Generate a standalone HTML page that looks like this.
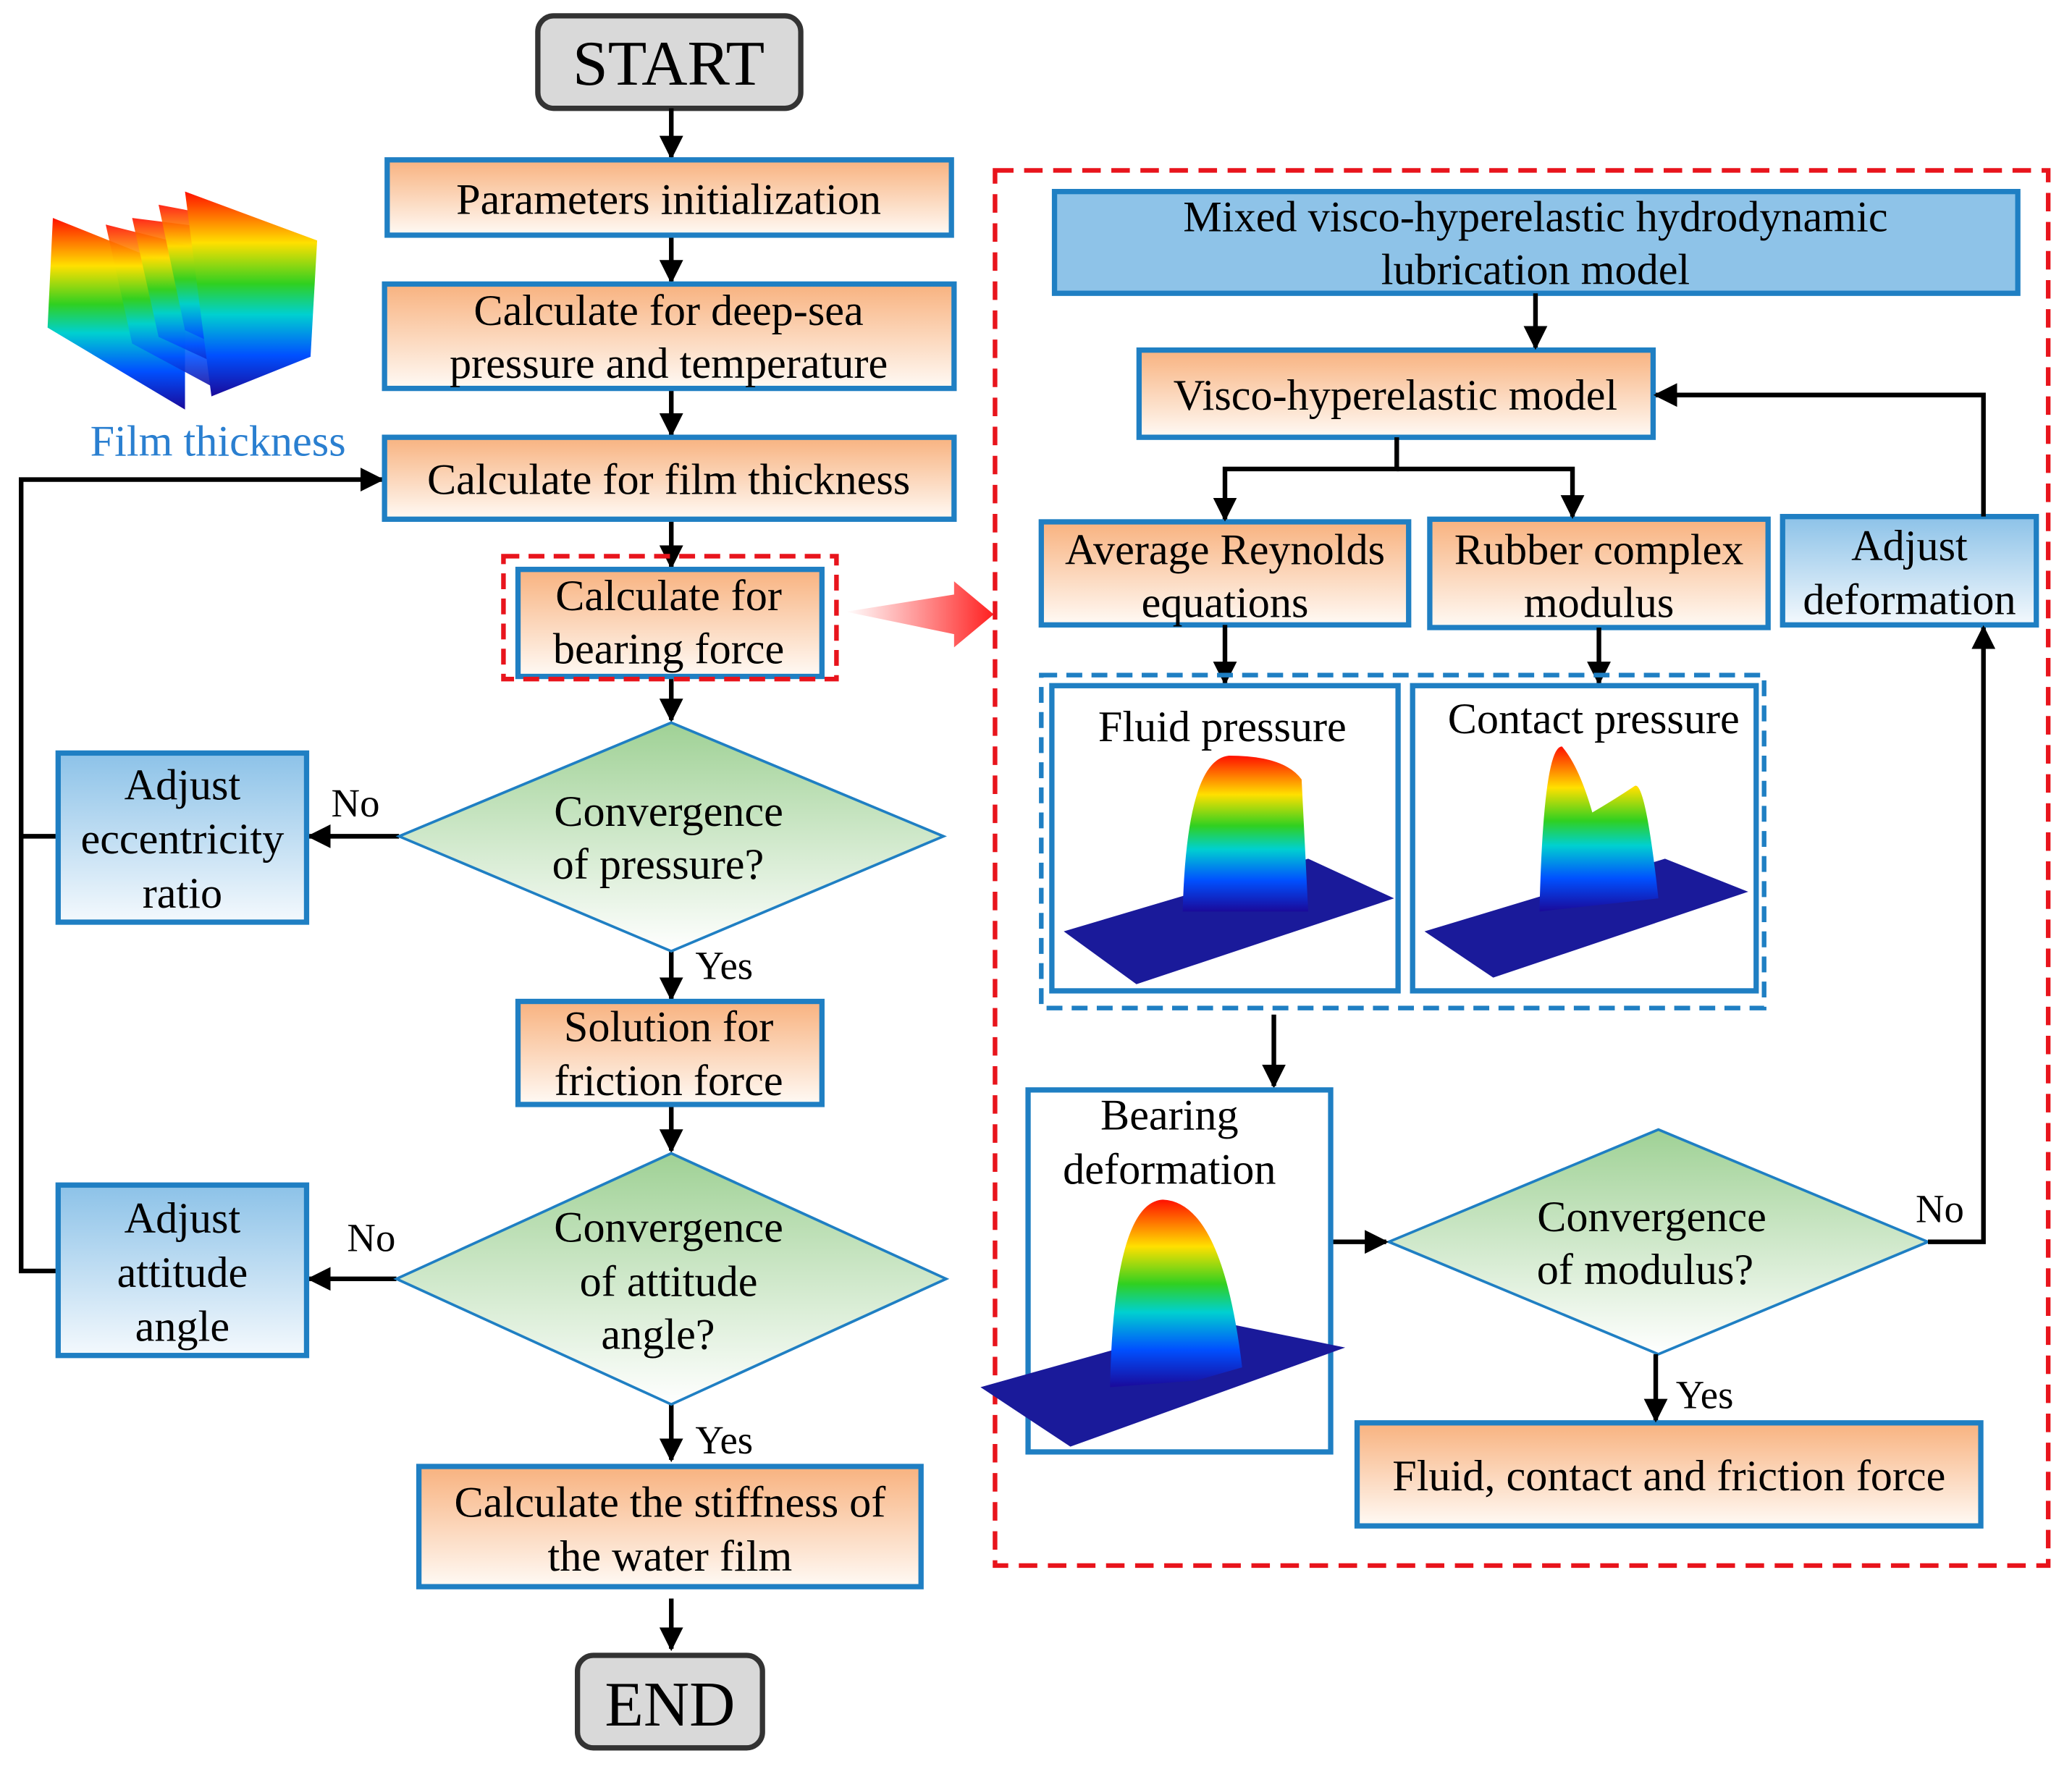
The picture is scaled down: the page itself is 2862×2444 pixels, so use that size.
<!DOCTYPE html>
<html><head><meta charset="utf-8"><style>
html,body{margin:0;padding:0;background:#fff}
svg{display:block}
text{font-family:"Liberation Serif",serif;fill:#000}
</style></head><body>
<svg width="2862" height="2444" viewBox="0 0 1568 1339" xmlns="http://www.w3.org/2000/svg">
<defs>
<linearGradient id="og" x1="0" y1="0" x2="0" y2="1"><stop offset="0" stop-color="#f8b27f"/><stop offset="1" stop-color="#fffaf5"/></linearGradient>
<linearGradient id="bg" x1="0" y1="0" x2="0" y2="1"><stop offset="0" stop-color="#8cc2e8"/><stop offset="1" stop-color="#f4f9fd"/></linearGradient>
<linearGradient id="gg" x1="0" y1="0" x2="0" y2="1"><stop offset="0" stop-color="#9fd195"/><stop offset="1" stop-color="#ffffff"/></linearGradient>
<linearGradient id="rb" x1="0" y1="1" x2="0" y2="0"><stop offset="0" stop-color="#1a0a9a"/><stop offset="0.2" stop-color="#0050ff"/><stop offset="0.4" stop-color="#00d0d0"/><stop offset="0.55" stop-color="#30d020"/><stop offset="0.75" stop-color="#ffe000"/><stop offset="1" stop-color="#ff1000"/></linearGradient>
<linearGradient id="ra" x1="0" y1="0" x2="1" y2="0"><stop offset="0" stop-color="#ff3030" stop-opacity="0"/><stop offset="1" stop-color="#ff2020"/></linearGradient>
<marker id="ar2" viewBox="0 0 10 10" markerWidth="18" markerHeight="18" refX="9" refY="5" orient="auto" markerUnits="userSpaceOnUse"><path d="M0,0 L10,5 L0,10 z" fill="#000"/></marker>
</defs>
<g font-size="33" text-anchor="middle">
<rect x="407" y="12" width="199" height="70" rx="12" fill="#d9d9d9" stroke="#333" stroke-width="4"/>
<text x="506" y="64" font-size="48">START</text>
<g stroke="#000" stroke-width="3.5" fill="none" marker-end="url(#ar2)">
<line x1="508" y1="82" x2="508" y2="119"/>
<line x1="508" y1="178" x2="508" y2="213"/>
<line x1="508" y1="294" x2="508" y2="329"/>
<line x1="508" y1="393" x2="508" y2="429"/>
<line x1="508" y1="514" x2="508" y2="545"/>
<line x1="508" y1="720" x2="508" y2="756"/>
<line x1="508" y1="836" x2="508" y2="871"/>
<line x1="508" y1="1063" x2="508" y2="1105"/>
<line x1="508" y1="1210" x2="508" y2="1248"/>
<line x1="302" y1="633" x2="234" y2="633"/>
<line x1="300" y1="968" x2="234" y2="968"/>
<polyline points="44,633 16,633 16,363 289,363"/>
</g>
<polyline points="44,962 16,962 16,633" stroke="#000" stroke-width="3.5" fill="none"/>
<g stroke="#1f7fc3" stroke-width="4" fill="url(#og)">
<rect x="293" y="121" width="427" height="57"/>
<rect x="291" y="215" width="431" height="79"/>
<rect x="291" y="331" width="431" height="62"/>
<rect x="392" y="431" width="230" height="81"/>
<rect x="392" y="758" width="230" height="78"/>
<rect x="317" y="1110" width="380" height="91"/>
</g>
<rect x="381" y="421" width="252" height="93" fill="none" stroke="#e8141c" stroke-width="3.5" stroke-dasharray="12,7"/>
<text x="506" y="162">Parameters initialization</text>
<text x="506" y="246">Calculate for deep-sea</text>
<text x="506" y="286">pressure and temperature</text>
<text x="506" y="374">Calculate for film thickness</text>
<text x="506" y="462">Calculate for</text>
<text x="506" y="502">bearing force</text>
<text x="506" y="788">Solution for</text>
<text x="506" y="829">friction force</text>
<text x="507" y="1148">Calculate the stiffness of</text>
<text x="507" y="1189">the water film</text>
<g stroke="#1f7fc3" stroke-width="2" fill="url(#gg)">
<polygon points="508,547 714,633 508,720 302,633"/>
<polygon points="508,873 716,968 508,1063 300,968"/>
<polygon points="1255,855 1459,940 1255,1025 1051,940"/>
</g>
<text x="506" y="625">Convergence</text>
<text x="498" y="665">of pressure?</text>
<text x="506" y="940">Convergence</text>
<text x="506" y="981">of attitude</text>
<text x="498" y="1021">angle?</text>
<text x="1250" y="932">Convergence</text>
<text x="1245" y="972">of modulus?</text>
<text x="269" y="618" font-size="30">No</text>
<text x="281" y="947" font-size="30">No</text>
<text x="548" y="741" font-size="30">Yes</text>
<text x="548" y="1100" font-size="30">Yes</text>
<g stroke="#1f7fc3" stroke-width="4" fill="url(#bg)">
<rect x="44" y="570" width="188" height="128"/>
<rect x="44" y="897" width="188" height="129"/>
<rect x="1349" y="391" width="192" height="82"/>
</g>
<text x="138" y="605">Adjust</text>
<text x="138" y="646">eccentricity</text>
<text x="138" y="687">ratio</text>
<text x="138" y="933">Adjust</text>
<text x="138" y="974">attitude</text>
<text x="138" y="1015">angle</text>
<text x="1445" y="424">Adjust</text>
<text x="1445" y="465">deformation</text>
<rect x="437" y="1253" width="140" height="70" rx="12" fill="#d9d9d9" stroke="#333" stroke-width="4"/>
<text x="507" y="1306" font-size="48">END</text>
<g>
<polygon points="40,165 140,205 140,310 36,248" fill="url(#rb)"/>
<polygon points="80,170 160,190 165,295 100,260" fill="url(#rb)" opacity="0.9"/>
<polygon points="100,165 180,175 185,285 120,255" fill="url(#rb)" opacity="0.9"/>
<polygon points="120,155 200,170 205,280 140,250" fill="url(#rb)" opacity="0.9"/>
<polygon points="140,145 240,182 235,270 160,300" fill="url(#rb)"/>
</g>
<text x="165" y="345" style="fill:#2a7fd0">Film thickness</text>
<polygon points="640,463 722,450 722,440 752,465 722,490 722,480" fill="url(#ra)"/>
<rect x="753" y="129" width="797" height="1056" fill="none" stroke="#e8141c" stroke-width="3.5" stroke-dasharray="14,8"/>
<rect x="798" y="145" width="729" height="77" fill="#8ec3e8" stroke="#1f7fc3" stroke-width="4"/>
<text x="1162" y="175">Mixed visco-hyperelastic hydrodynamic</text>
<text x="1162" y="215">lubrication model</text>
<g stroke="#1f7fc3" stroke-width="4" fill="url(#og)">
<rect x="862" y="265" width="389" height="66"/>
<rect x="788" y="395" width="278" height="78"/>
<rect x="1082" y="393" width="256" height="82"/>
<rect x="1027" y="1077" width="472" height="78"/>
</g>
<text x="1056" y="310">Visco-hyperelastic model</text>
<text x="927" y="427">Average Reynolds</text>
<text x="927" y="467">equations</text>
<text x="1210" y="427">Rubber complex</text>
<text x="1210" y="467">modulus</text>
<text x="1263" y="1128">Fluid, contact and friction force</text>
<g stroke="#000" stroke-width="3.5" fill="none" marker-end="url(#ar2)">
<line x1="1162" y1="222" x2="1162" y2="263"/>
<polyline points="1057,331 1057,355 927,355 927,393"/>
<polyline points="1057,355 1190,355 1190,391"/>
<line x1="927" y1="473" x2="927" y2="517"/>
<line x1="1210" y1="475" x2="1210" y2="517"/>
<line x1="964" y1="768" x2="964" y2="822"/>
<line x1="1007" y1="940" x2="1049" y2="940"/>
<polyline points="1459,940 1501,940 1501,475"/>
<polyline points="1501,391 1501,299 1253,299"/>
<line x1="1253" y1="1025" x2="1253" y2="1075"/>
</g>
<text x="1468" y="925" font-size="30">No</text>
<text x="1290" y="1066" font-size="30">Yes</text>
<rect x="788" y="511" width="547" height="252" fill="none" stroke="#1f7fc3" stroke-width="3.5" stroke-dasharray="12,7"/>
<g stroke="#1f7fc3" stroke-width="4" fill="#fff">
<rect x="796" y="519" width="262" height="231"/>
<rect x="1069" y="519" width="260" height="231"/>
<rect x="778" y="825" width="229" height="274"/>
</g>
<text x="925" y="561">Fluid pressure</text>
<text x="1206" y="555">Contact pressure</text>
<text x="885" y="855">Bearing</text>
<text x="885" y="896">deformation</text>
<polygon points="805,705 990,650 1055,680 860,745" fill="#1a1a9a"/>
<path d="M895,690 Q898,575 930,572 Q972,572 985,590 L990,690 Z" fill="url(#rb)"/>
<polygon points="1078,705 1260,650 1323,675 1130,740" fill="#1a1a9a"/>
<path d="M1165,690 Q1168,565 1182,565 Q1195,580 1205,615 Q1222,605 1237,595 Q1245,590 1255,680 Z" fill="url(#rb)"/>
<polygon points="742,1050 920,1000 1018,1020 810,1095" fill="#1a1a9a"/>
<path d="M840,1050 Q843,910 880,908 Q925,910 940,1035 L905,1045 Z" fill="url(#rb)"/>
</g>
</svg>
</body></html>
